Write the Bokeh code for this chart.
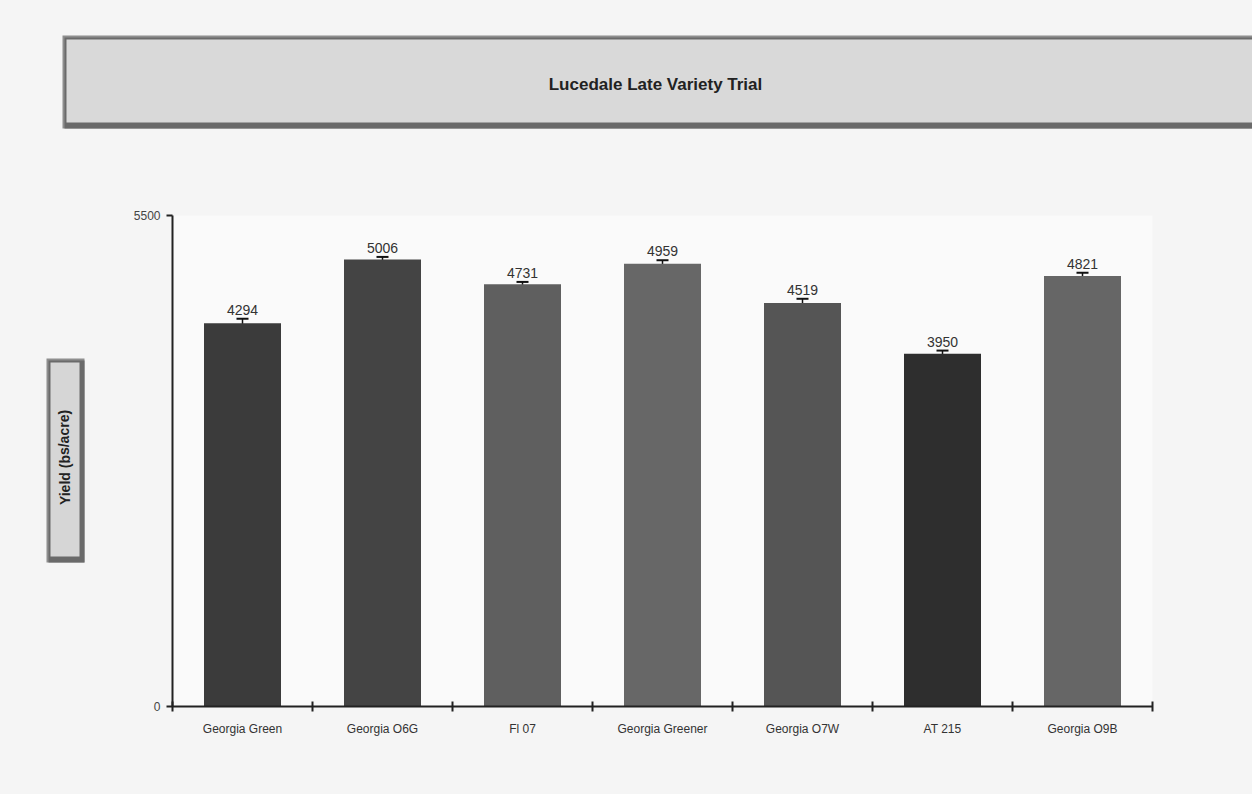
from bokeh.plotting import figure
from bokeh.layouts import column, row
from bokeh.models import (ColumnDataSource, FixedTicker, Whisker, LabelSet, Range1d)
from bokeh.core.properties import value
from bokeh.embed import file_html
from bokeh.resources import INLINE

# ---- data ----
varieties = ["Georgia Green", "Georgia O6G", "Fl 07", "Georgia Greener",
             "Georgia O7W", "AT 215", "Georgia O9B"]
yields = [4294, 5006, 4731, 4959, 4519, 3950, 4821]
errors = [50, 30, 25, 40, 48, 37, 37]
bar_colors = ["#3b3b3b", "#444444", "#5f5f5f", "#676767", "#555555", "#2e2e2e", "#666666"]
y_ticks = [0, 5500]
title_text = "Lucedale Late Variety Trial"
ylabel_text = "Yield (bs/acre)"

FONT = "Liberation Sans"
PAGE_BG = "#f5f5f5"

# chart panel borders (pixels)
B_LEFT, B_RIGHT, B_TOP, B_BOTTOM = 72, 100, 65, 88
PANEL_H = 644


def blank(width, height, top=0, bottom=0):
    f = figure(width=width, height=height, output_backend="svg", toolbar_location=None,
               x_range=Range1d(0, width), y_range=Range1d(height - bottom, top),
               min_border=0, min_border_top=top, min_border_bottom=bottom)
    f.axis.visible = False
    f.grid.grid_line_color = None
    f.outline_line_color = None
    f.background_fill_alpha = 0
    f.border_fill_color = PAGE_BG
    return f


def bevel(f, l, t, r, b, fill):
    f.quad(left=[l], right=[r], top=[t], bottom=[b], fill_color="#8e8e8e", line_color=None)
    f.quad(left=[l + 2], right=[r], top=[t + 2], bottom=[b], fill_color="#6a6a6a", line_color=None)
    f.quad(left=[l + 4], right=[r - 5], top=[t + 4], bottom=[b - 6], fill_color=fill, line_color=None)


# ---- title panel ----
tfig = blank(1252, 150)
bevel(tfig, 62, 35, 1262, 128, "#d9d9d9")
tfig.text(x=[655], y=[84], text=[title_text], text_align="center", text_baseline="middle",
          text_font=value(FONT), text_font_style="bold", text_font_size="17px",
          text_color="#222222")

# ---- y label panel (frame aligned with chart frame) ----
lfig = blank(100, PANEL_H, top=B_TOP, bottom=B_BOTTOM)
bevel(lfig, 46, 208, 84, 412, "#d6d6d6")
lfig.text(x=[64], y=[307], text=[ylabel_text], angle=1.5708, text_align="center",
          text_baseline="middle", text_font=value(FONT), text_font_style="bold",
          text_font_size="14px", text_color="#222222")

# ---- chart ----
xs = [i + 0.5 for i in range(len(varieties))]
src = ColumnDataSource(dict(
    x=xs, top=yields, color=bar_colors,
    upper=[v + e for v, e in zip(yields, errors)],
    lower=[v - e for v, e in zip(yields, errors)],
    lab=[str(v) for v in yields],
))

p = figure(width=1152, height=PANEL_H, output_backend="svg", toolbar_location=None,
           x_range=Range1d(0, len(varieties)), y_range=Range1d(0, 5500),
           min_border_left=B_LEFT, min_border_right=B_RIGHT, min_border_top=B_TOP,
           min_border_bottom=B_BOTTOM)
p.background_fill_color = "#fafafa"
p.border_fill_color = PAGE_BG
p.outline_line_color = None

p.vbar(x="x", top="top", width=0.55, bottom=0, fill_color="color",
       line_color=None, source=src)

w = Whisker(base="x", upper="upper", lower="lower", source=src,
            line_color="#111111", line_width=1.5)
for h in (w.upper_head, w.lower_head):
    h.size = 12
    h.line_width = 2
    h.line_color = "#111111"
p.add_layout(w)

labels = LabelSet(x="x", y="upper", text="lab", source=src, y_offset=4,
                  text_align="center", text_baseline="bottom",
                  text_font=value(FONT), text_font_size="14px", text_color="#333333")
p.add_layout(labels)

p.xaxis.ticker = FixedTicker(ticks=xs, minor_ticks=list(range(len(varieties) + 1)))
p.xaxis.major_label_overrides = {x: v for x, v in zip(xs, varieties)}
p.xaxis.major_tick_line_color = None
p.xaxis.major_tick_in = 0
p.xaxis.major_tick_out = 0
p.xaxis.minor_tick_in = 5
p.xaxis.minor_tick_out = 5
p.xaxis.minor_tick_line_width = 2
p.xaxis.minor_tick_line_color = "#222222"
p.xaxis.major_label_standoff = 10
p.xaxis.axis_line_width = 2
p.xaxis.axis_line_color = "#222222"
p.xaxis.major_label_text_font = FONT
p.xaxis.major_label_text_font_size = "12px"
p.xaxis.major_label_text_color = "#333333"

p.yaxis.ticker = FixedTicker(ticks=y_ticks)
p.yaxis.minor_tick_line_color = None
p.yaxis.major_tick_in = 0
p.yaxis.major_tick_out = 6
p.yaxis.major_tick_line_width = 2
p.yaxis.major_tick_line_color = "#222222"
p.yaxis.axis_line_width = 2
p.yaxis.axis_line_color = "#222222"
p.yaxis.major_label_standoff = 6
p.yaxis.major_label_text_font = FONT
p.yaxis.major_label_text_font_size = "12px"
p.yaxis.major_label_text_color = "#444444"

p.xgrid.grid_line_color = None
p.ygrid.ticker = FixedTicker(ticks=[5500])
p.ygrid.grid_line_color = "#222222"
p.ygrid.grid_line_width = 1.5

inner = row(lfig, p, spacing=0, styles={"background-color": PAGE_BG})
layout = column(tfig, inner, spacing=0, styles={"background-color": PAGE_BG})
open("out.html", "w").write(file_html(layout, INLINE))
